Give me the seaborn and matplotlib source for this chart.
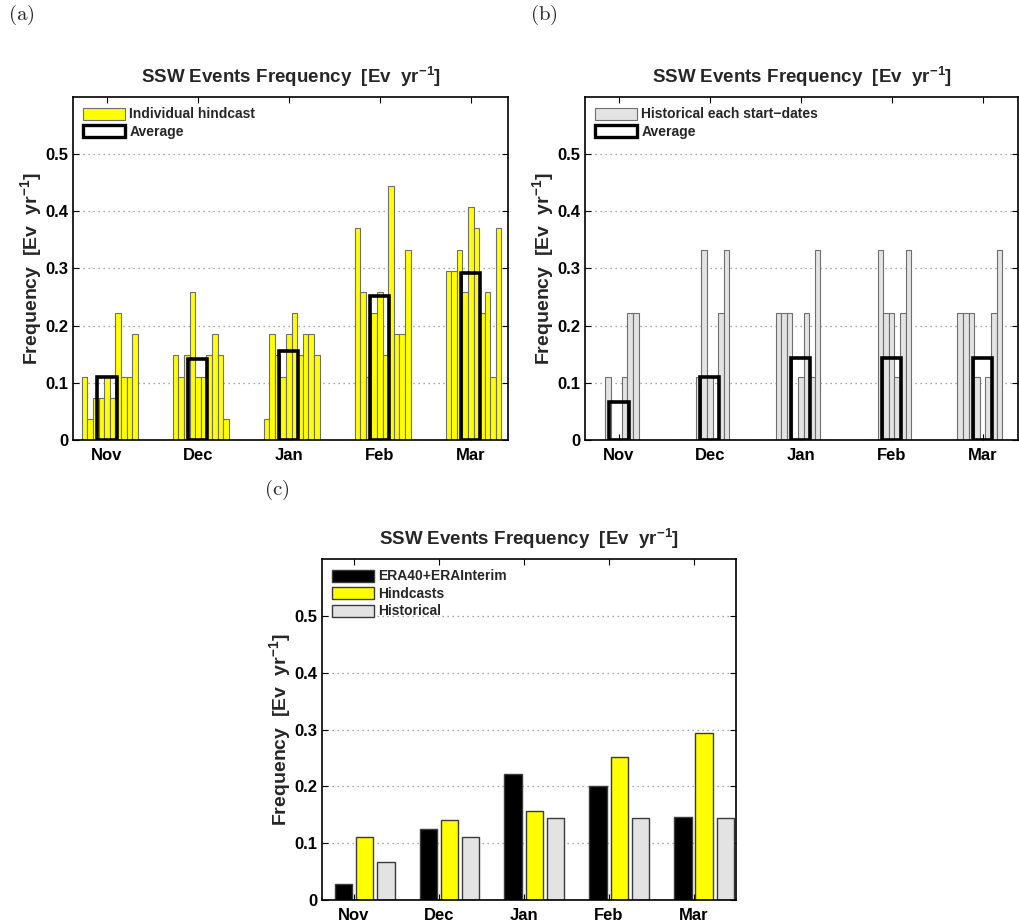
import numpy as np
import pandas as pd
import matplotlib
matplotlib.use("Agg")
import matplotlib.pyplot as plt
from matplotlib.patches import Patch
import seaborn as sns

# ---------------- data ----------------
months = ["Nov", "Dec", "Jan", "Feb", "Mar"]

# (a) individual hindcasts (10 per month)
hind_nov = [0.111, 0.037, 0.074, 0.074, 0.111, 0.074, 0.222, 0.111, 0.111, 0.185]
hind_dec = [0.148, 0.111, 0.148, 0.259, 0.111, 0.111, 0.148, 0.185, 0.148, 0.037]
hind_jan = [0.037, 0.185, 0.148, 0.111, 0.185, 0.222, 0.148, 0.185, 0.185, 0.148]
hind_feb = [0.370, 0.259, 0.111, 0.222, 0.259, 0.148, 0.444, 0.185, 0.185, 0.333]
hind_mar = [0.296, 0.296, 0.333, 0.259, 0.407, 0.370, 0.222, 0.259, 0.111, 0.370]
hind_avg = [0.111, 0.141, 0.156, 0.252, 0.293]

# (b) historical each start-date (10 per month)
hist_nov = [0.0, 0.0, 0.111, 0.0, 0.0, 0.111, 0.222, 0.222, 0.0, 0.0]
hist_dec = [0.0, 0.0, 0.111, 0.333, 0.111, 0.0, 0.222, 0.333, 0.0, 0.0]
hist_jan = [0.222, 0.222, 0.222, 0.0, 0.111, 0.222, 0.111, 0.333, 0.0, 0.0]
hist_feb = [0.0, 0.0, 0.333, 0.222, 0.222, 0.111, 0.222, 0.333, 0.0, 0.0]
hist_mar = [0.222, 0.222, 0.222, 0.111, 0.0, 0.111, 0.222, 0.333, 0.0, 0.0]
hist_avg = [0.067, 0.111, 0.144, 0.144, 0.144]

# (c) comparison
era_vals = [0.028, 0.125, 0.222, 0.201, 0.146]
hindcasts_vals = hind_avg
historical_vals = hist_avg

yticks = [0, 0.1, 0.2, 0.3, 0.4, 0.5]
ytick_labels = ["0", "0.1", "0.2", "0.3", "0.4", "0.5"]

TITLE = "SSW Events Frequency  [Ev  yr$^{-1}$]"
YLAB = "Frequency  [Ev  yr$^{-1}$]"

# ---------------- style ----------------
sns.set_theme(style="ticks")
plt.rcParams.update({
    "font.family": ["Liberation Sans", "DejaVu Sans"],
    "font.weight": "bold",
    "axes.titleweight": "bold",
    "axes.labelweight": "bold",
    "mathtext.fontset": "custom",
    "mathtext.rm": "Liberation Sans:bold",
    "mathtext.it": "Liberation Sans:bold",
    "mathtext.bf": "Liberation Sans:bold",
    "mathtext.default": "rm",
    "axes.edgecolor": "black",
    "axes.linewidth": 1.2,
})

YELLOW = "#ffff00"
LGREY = "#e3e3e3"
EDGE = "#6e6e6e"

fig = plt.figure(figsize=(10.19, 9.22), dpi=100)
W, H = 1019.0, 922.0


def make_ax(left, top, right, bottom):
    return fig.add_axes([left / W, 1 - bottom / H, (right - left) / W, (bottom - top) / H])


def style_ax(ax, xlim):
    ax.set_ylim(0, 0.6)
    ax.set_xlim(*xlim)
    ax.set_yticks(yticks)
    ax.set_yticklabels(ytick_labels, fontsize=12, fontweight="bold")
    ax.set_xticks(range(len(months)))
    ax.set_xticklabels(months, fontsize=12, fontweight="bold")
    ax.tick_params(direction="in", length=4, width=0.8, top=True, right=True,
                   pad=3, colors="black")
    ax.tick_params(axis="x", pad=6)
    ax.yaxis.grid(True, linestyle=(0, (1, 3)), color="#8a8a8a", linewidth=0.9)
    ax.xaxis.grid(False)
    ax.set_axisbelow(True)
    ax.set_xlabel("")
    ax.set_ylabel(YLAB, fontsize=14, fontweight="bold", labelpad=1)
    ax.set_title(TITLE, fontsize=13.5, fontweight="bold", pad=10)
    for s in ax.spines.values():
        s.set_visible(True)
        s.set_color("black")


def slot_frame(series_lists):
    rows = []
    for m, vals in zip(months, series_lists):
        rows.append({"month": m, "slot": "s00", "freq": 0.0})
        for i, v in enumerate(vals):
            rows.append({"month": m, "slot": f"s{i + 1:02d}", "freq": v})
    return pd.DataFrame(rows)


NSLOT = 11
SLOTW = 0.0615
slot_order = [f"s{i:02d}" for i in range(NSLOT)]
LEG = dict(loc="upper left", frameon=False, handlelength=3.0, handleheight=0.95,
           handletextpad=0.3, labelspacing=0.25, borderaxespad=0.35,
           prop={"weight": "bold", "size": 10})

# ---------------- panel (a) ----------------
axa = make_ax(73, 97, 508, 440)
dfa = slot_frame([hind_nov, hind_dec, hind_jan, hind_feb, hind_mar])
sns.barplot(data=dfa, x="month", y="freq", hue="slot", order=months,
            hue_order=slot_order, palette={s: YELLOW for s in slot_order},
            width=NSLOT * SLOTW, gap=0, dodge=True, edgecolor=EDGE,
            linewidth=0.8, saturation=1, legend=False, errorbar=None, ax=axa)
dfa_avg = pd.DataFrame({"month": months, "freq": hind_avg})
sns.barplot(data=dfa_avg, x="month", y="freq", order=months, fill=False,
            width=0.21, edgecolor="black", linewidth=2.6, errorbar=None, ax=axa)
style_ax(axa, (-0.374, 4.41))
axa.legend(handles=[Patch(facecolor=YELLOW, edgecolor=EDGE, linewidth=0.8, label="Individual hindcast"),
                    Patch(facecolor="white", edgecolor="black", linewidth=2.4, label="Average")],
           **LEG)

# ---------------- panel (b) ----------------
axb = make_ax(585, 97, 1018, 440)
dfb = slot_frame([hist_nov, hist_dec, hist_jan, hist_feb, hist_mar])
sns.barplot(data=dfb, x="month", y="freq", hue="slot", order=months,
            hue_order=slot_order, palette={s: LGREY for s in slot_order},
            width=NSLOT * SLOTW, gap=0, dodge=True, edgecolor=EDGE,
            linewidth=0.8, saturation=1, legend=False, errorbar=None, ax=axb)
dfb_avg = pd.DataFrame({"month": months, "freq": hist_avg})
sns.barplot(data=dfb_avg, x="month", y="freq", order=months, fill=False,
            width=0.21, edgecolor="black", linewidth=2.6, errorbar=None, ax=axb)
style_ax(axb, (-0.374, 4.39))
axb.legend(handles=[Patch(facecolor=LGREY, edgecolor=EDGE, linewidth=0.8, label="Historical each start\u2212dates"),
                    Patch(facecolor="white", edgecolor="black", linewidth=2.4, label="Average")],
           **LEG)

# ---------------- panel (c) ----------------
axc = make_ax(322, 559, 736, 900)
src_order = ["_pad", "ERA40+ERAInterim", "Hindcasts", "Historical"]
rows = []
for i, m in enumerate(months):
    rows.append({"month": m, "source": "_pad", "freq": 0.0})
    rows.append({"month": m, "source": "ERA40+ERAInterim", "freq": era_vals[i]})
    rows.append({"month": m, "source": "Hindcasts", "freq": hindcasts_vals[i]})
    rows.append({"month": m, "source": "Historical", "freq": historical_vals[i]})
dfc = pd.DataFrame(rows)
sns.barplot(data=dfc, x="month", y="freq", hue="source", order=months,
            hue_order=src_order,
            palette={"_pad": "white", "ERA40+ERAInterim": "black",
                     "Hindcasts": YELLOW, "Historical": LGREY},
            width=1.0, gap=0.18, dodge=True, edgecolor="#3a3a3a", linewidth=1.0,
            saturation=1, legend=False, errorbar=None, ax=axc)
style_ax(axc, (-0.377, 4.5))
axc.legend(handles=[Patch(facecolor="black", edgecolor="#3a3a3a", label="ERA40+ERAInterim"),
                    Patch(facecolor=YELLOW, edgecolor="#3a3a3a", label="Hindcasts"),
                    Patch(facecolor=LGREY, edgecolor="#3a3a3a", label="Historical")],
           **LEG)

# ---------------- panel letters ----------------
for x, y, lab in [(8, 15, "(a)"), (530, 15, "(b)"), (264, 490, "(c)")]:
    fig.text(x / W, 1 - y / H, r"$\mathrm{" + lab + "}$", math_fontfamily="cm",
             fontsize=15, va="center", ha="left")

fig.savefig("out.png", dpi=100)
